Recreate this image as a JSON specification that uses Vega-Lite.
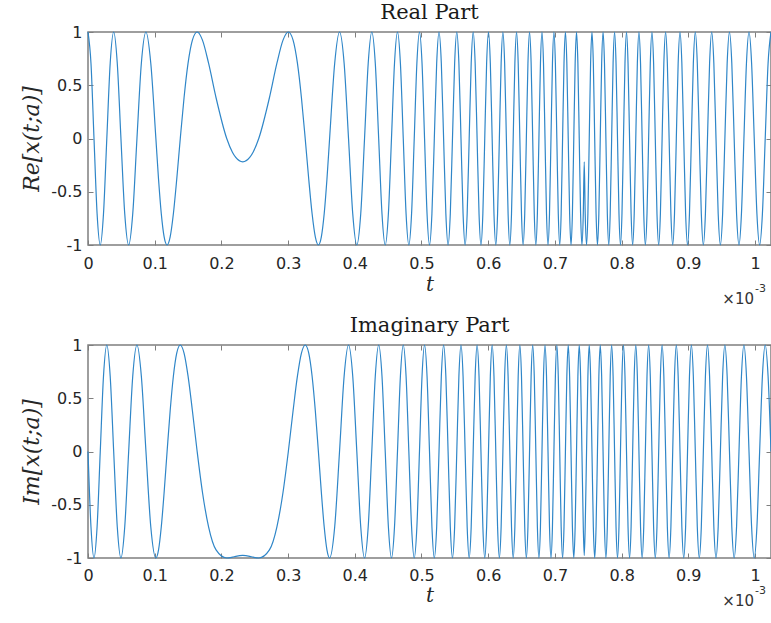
{
  "$schema": "https://vega.github.io/schema/vega-lite/v6.json",
  "background": "white",
  "padding": {"left": 20, "top": 1, "right": 0, "bottom": 0},
  "config": {
    "view": {"stroke": "#7f7f7f", "strokeWidth": 1.5},
    "axis": {
      "grid": false,
      "domain": false,
      "labelFont": "DejaVu Sans",
      "labelFontSize": 16,
      "labelColor": "#262626",
      "labelFlush": false,
      "tickColor": "#7f7f7f",
      "tickSize": 5,
      "offset": -5,
      "titleFont": "DejaVu Serif",
      "titleFontStyle": "italic",
      "titleFontWeight": "normal",
      "titleFontSize": 22,
      "titleColor": "#262626"
    },
    "title": {"font": "DejaVu Serif", "fontSize": 21, "fontWeight": "normal", "color": "#1a1a1a", "offset": 1}
  },
  "datasets": {
    "chirp": [
      {"t":0,"re":1,"im":0},
      {"t":0.00446,"re":0.7071,"im":-0.7071},
      {"t":0.009,"re":0,"im":-1},
      {"t":0.01364,"re":-0.7071,"im":-0.7071},
      {"t":0.01838,"re":-1,"im":0},
      {"t":0.02323,"re":-0.7071,"im":0.7071},
      {"t":0.0282,"re":0,"im":1},
      {"t":0.03328,"re":0.7071,"im":0.7071},
      {"t":0.03851,"re":1,"im":0},
      {"t":0.04388,"re":0.7071,"im":-0.7071},
      {"t":0.04939,"re":0,"im":-1},
      {"t":0.05509,"re":-0.7071,"im":-0.7071},
      {"t":0.06098,"re":-1,"im":0},
      {"t":0.06708,"re":-0.7071,"im":0.7071},
      {"t":0.0734,"re":0,"im":1},
      {"t":0.08,"re":0.7071,"im":0.7071},
      {"t":0.08689,"re":1,"im":0},
      {"t":0.09413,"re":0.7071,"im":-0.7071},
      {"t":0.10177,"re":0,"im":-1},
      {"t":0.10576,"re":-0.3827,"im":-0.9239},
      {"t":0.10989,"re":-0.7071,"im":-0.7071},
      {"t":0.11415,"re":-0.9239,"im":-0.3827},
      {"t":0.11858,"re":-1,"im":0},
      {"t":0.12319,"re":-0.9239,"im":0.3827},
      {"t":0.128,"re":-0.7071,"im":0.7071},
      {"t":0.13304,"re":-0.3827,"im":0.9239},
      {"t":0.13836,"re":0,"im":1},
      {"t":0.144,"re":0.3827,"im":0.9239},
      {"t":0.15002,"re":0.7071,"im":0.7071},
      {"t":0.15653,"re":0.9239,"im":0.3827},
      {"t":0.16365,"re":1,"im":0},
      {"t":0.1716,"re":0.9239,"im":-0.3827},
      {"t":0.18077,"re":0.7071,"im":-0.7071},
      {"t":0.192,"re":0.3827,"im":-0.9239},
      {"t":0.20799,"re":0,"im":-1},
      {"t":0.21651,"re":-0.1288,"im":-0.9917},
      {"t":0.22153,"re":-0.1782,"im":-0.984},
      {"t":0.232,"re":-0.2192,"im":-0.9757},
      {"t":0.24247,"re":-0.1782,"im":-0.984},
      {"t":0.24749,"re":-0.1288,"im":-0.9917},
      {"t":0.25601,"re":0,"im":-1},
      {"t":0.272,"re":0.3827,"im":-0.9239},
      {"t":0.28323,"re":0.7071,"im":-0.7071},
      {"t":0.2924,"re":0.9239,"im":-0.3827},
      {"t":0.30035,"re":1,"im":0},
      {"t":0.30747,"re":0.9239,"im":0.3827},
      {"t":0.31398,"re":0.7071,"im":0.7071},
      {"t":0.32,"re":0.3827,"im":0.9239},
      {"t":0.32564,"re":0,"im":1},
      {"t":0.33096,"re":-0.3827,"im":0.9239},
      {"t":0.336,"re":-0.7071,"im":0.7071},
      {"t":0.34081,"re":-0.9239,"im":0.3827},
      {"t":0.34542,"re":-1,"im":0},
      {"t":0.34985,"re":-0.9239,"im":-0.3827},
      {"t":0.35411,"re":-0.7071,"im":-0.7071},
      {"t":0.35824,"re":-0.3827,"im":-0.9239},
      {"t":0.36223,"re":0,"im":-1},
      {"t":0.36987,"re":0.7071,"im":-0.7071},
      {"t":0.37711,"re":1,"im":0},
      {"t":0.384,"re":0.7071,"im":0.7071},
      {"t":0.3906,"re":0,"im":1},
      {"t":0.39692,"re":-0.7071,"im":0.7071},
      {"t":0.40302,"re":-1,"im":0},
      {"t":0.40891,"re":-0.7071,"im":-0.7071},
      {"t":0.41461,"re":0,"im":-1},
      {"t":0.42012,"re":0.7071,"im":-0.7071},
      {"t":0.42549,"re":1,"im":0},
      {"t":0.43072,"re":0.7071,"im":0.7071},
      {"t":0.4358,"re":0,"im":1},
      {"t":0.44077,"re":-0.7071,"im":0.7071},
      {"t":0.44562,"re":-1,"im":0},
      {"t":0.45036,"re":-0.7071,"im":-0.7071},
      {"t":0.455,"re":0,"im":-1},
      {"t":0.45954,"re":0.7071,"im":-0.7071},
      {"t":0.464,"re":1,"im":0},
      {"t":0.46837,"re":0.7071,"im":0.7071},
      {"t":0.47267,"re":0,"im":1},
      {"t":0.47688,"re":-0.7071,"im":0.7071},
      {"t":0.48103,"re":-1,"im":0},
      {"t":0.48511,"re":-0.7071,"im":-0.7071},
      {"t":0.48912,"re":0,"im":-1},
      {"t":0.49308,"re":0.7071,"im":-0.7071},
      {"t":0.49697,"re":1,"im":0},
      {"t":0.5008,"re":0.7071,"im":0.7071},
      {"t":0.50459,"re":0,"im":1},
      {"t":0.50832,"re":-0.7071,"im":0.7071},
      {"t":0.512,"re":-1,"im":0},
      {"t":0.51563,"re":-0.7071,"im":-0.7071},
      {"t":0.51922,"re":0,"im":-1},
      {"t":0.52277,"re":0.7071,"im":-0.7071},
      {"t":0.52626,"re":1,"im":0},
      {"t":0.52973,"re":0.7071,"im":0.7071},
      {"t":0.53314,"re":0,"im":1},
      {"t":0.53653,"re":-0.7071,"im":0.7071},
      {"t":0.53987,"re":-1,"im":0},
      {"t":0.54318,"re":-0.7071,"im":-0.7071},
      {"t":0.54645,"re":0,"im":-1},
      {"t":0.54969,"re":0.7071,"im":-0.7071},
      {"t":0.5529,"re":1,"im":0},
      {"t":0.55607,"re":0.7071,"im":0.7071},
      {"t":0.55922,"re":0,"im":1},
      {"t":0.56233,"re":-0.7071,"im":0.7071},
      {"t":0.56542,"re":-1,"im":0},
      {"t":0.56847,"re":-0.7071,"im":-0.7071},
      {"t":0.5715,"re":0,"im":-1},
      {"t":0.57451,"re":0.7071,"im":-0.7071},
      {"t":0.57748,"re":1,"im":0},
      {"t":0.58044,"re":0.7071,"im":0.7071},
      {"t":0.58336,"re":0,"im":1},
      {"t":0.58626,"re":-0.7071,"im":0.7071},
      {"t":0.58914,"re":-1,"im":0},
      {"t":0.592,"re":-0.7071,"im":-0.7071},
      {"t":0.59483,"re":0,"im":-1},
      {"t":0.59765,"re":0.7071,"im":-0.7071},
      {"t":0.60043,"re":1,"im":0},
      {"t":0.6032,"re":0.7071,"im":0.7071},
      {"t":0.60595,"re":0,"im":1},
      {"t":0.60867,"re":-0.7071,"im":0.7071},
      {"t":0.61138,"re":-1,"im":0},
      {"t":0.61407,"re":-0.7071,"im":-0.7071},
      {"t":0.61675,"re":0,"im":-1},
      {"t":0.6194,"re":0.7071,"im":-0.7071},
      {"t":0.62203,"re":1,"im":0},
      {"t":0.62465,"re":0.7071,"im":0.7071},
      {"t":0.62725,"re":0,"im":1},
      {"t":0.62983,"re":-0.7071,"im":0.7071},
      {"t":0.6324,"re":-1,"im":0},
      {"t":0.63495,"re":-0.7071,"im":-0.7071},
      {"t":0.63748,"re":0,"im":-1},
      {"t":0.64,"re":0.7071,"im":-0.7071},
      {"t":0.6425,"re":1,"im":0},
      {"t":0.64498,"re":0.7071,"im":0.7071},
      {"t":0.64746,"re":0,"im":1},
      {"t":0.64991,"re":-0.7071,"im":0.7071},
      {"t":0.65236,"re":-1,"im":0},
      {"t":0.65478,"re":-0.7071,"im":-0.7071},
      {"t":0.6572,"re":0,"im":-1},
      {"t":0.6596,"re":0.7071,"im":-0.7071},
      {"t":0.66199,"re":1,"im":0},
      {"t":0.66437,"re":0.7071,"im":0.7071},
      {"t":0.66673,"re":0,"im":1},
      {"t":0.66908,"re":-0.7071,"im":0.7071},
      {"t":0.67142,"re":-1,"im":0},
      {"t":0.67374,"re":-0.7071,"im":-0.7071},
      {"t":0.67606,"re":0,"im":-1},
      {"t":0.67835,"re":0.7071,"im":-0.7071},
      {"t":0.68064,"re":1,"im":0},
      {"t":0.68292,"re":0.7071,"im":0.7071},
      {"t":0.68518,"re":0,"im":1},
      {"t":0.68743,"re":-0.7071,"im":0.7071},
      {"t":0.68968,"re":-1,"im":0},
      {"t":0.69191,"re":-0.7071,"im":-0.7071},
      {"t":0.69413,"re":0,"im":-1},
      {"t":0.69634,"re":0.7071,"im":-0.7071},
      {"t":0.69854,"re":1,"im":0},
      {"t":0.70073,"re":0.7071,"im":0.7071},
      {"t":0.70291,"re":0,"im":1},
      {"t":0.70508,"re":-0.7071,"im":0.7071},
      {"t":0.70724,"re":-1,"im":0},
      {"t":0.70939,"re":-0.7071,"im":-0.7071},
      {"t":0.71153,"re":0,"im":-1},
      {"t":0.71366,"re":0.7071,"im":-0.7071},
      {"t":0.71578,"re":1,"im":0},
      {"t":0.7179,"re":0.7071,"im":0.7071},
      {"t":0.72,"re":0,"im":1},
      {"t":0.72209,"re":-0.7071,"im":0.7071},
      {"t":0.72418,"re":-1,"im":0},
      {"t":0.72625,"re":-0.7071,"im":-0.7071},
      {"t":0.72832,"re":0,"im":-1},
      {"t":0.73037,"re":0.7071,"im":-0.7071},
      {"t":0.73242,"re":1,"im":0},
      {"t":0.73447,"re":0.7071,"im":0.7071},
      {"t":0.7365,"re":0,"im":1},
      {"t":0.73853,"re":-0.7071,"im":0.7071},
      {"t":0.74054,"re":-1,"im":0},
      {"t":0.74256,"re":-0.7071,"im":-0.7071},
      {"t":0.744,"re":-0.2192,"im":-0.9757},
      {"t":0.74544,"re":-0.7071,"im":-0.7071},
      {"t":0.74746,"re":-1,"im":0},
      {"t":0.74947,"re":-0.7071,"im":0.7071},
      {"t":0.7515,"re":0,"im":1},
      {"t":0.75353,"re":0.7071,"im":0.7071},
      {"t":0.75558,"re":1,"im":0},
      {"t":0.75763,"re":0.7071,"im":-0.7071},
      {"t":0.75968,"re":0,"im":-1},
      {"t":0.76175,"re":-0.7071,"im":-0.7071},
      {"t":0.76382,"re":-1,"im":0},
      {"t":0.76591,"re":-0.7071,"im":0.7071},
      {"t":0.768,"re":0,"im":1},
      {"t":0.7701,"re":0.7071,"im":0.7071},
      {"t":0.77222,"re":1,"im":0},
      {"t":0.77434,"re":0.7071,"im":-0.7071},
      {"t":0.77647,"re":0,"im":-1},
      {"t":0.77861,"re":-0.7071,"im":-0.7071},
      {"t":0.78076,"re":-1,"im":0},
      {"t":0.78292,"re":-0.7071,"im":0.7071},
      {"t":0.78509,"re":0,"im":1},
      {"t":0.78727,"re":0.7071,"im":0.7071},
      {"t":0.78946,"re":1,"im":0},
      {"t":0.79166,"re":0.7071,"im":-0.7071},
      {"t":0.79387,"re":0,"im":-1},
      {"t":0.79609,"re":-0.7071,"im":-0.7071},
      {"t":0.79832,"re":-1,"im":0},
      {"t":0.80057,"re":-0.7071,"im":0.7071},
      {"t":0.80282,"re":0,"im":1},
      {"t":0.80508,"re":0.7071,"im":0.7071},
      {"t":0.80736,"re":1,"im":0},
      {"t":0.80965,"re":0.7071,"im":-0.7071},
      {"t":0.81194,"re":0,"im":-1},
      {"t":0.81426,"re":-0.7071,"im":-0.7071},
      {"t":0.81658,"re":-1,"im":0},
      {"t":0.81892,"re":-0.7071,"im":0.7071},
      {"t":0.82127,"re":0,"im":1},
      {"t":0.82363,"re":0.7071,"im":0.7071},
      {"t":0.82601,"re":1,"im":0},
      {"t":0.8284,"re":0.7071,"im":-0.7071},
      {"t":0.8308,"re":0,"im":-1},
      {"t":0.83322,"re":-0.7071,"im":-0.7071},
      {"t":0.83564,"re":-1,"im":0},
      {"t":0.83809,"re":-0.7071,"im":0.7071},
      {"t":0.84054,"re":0,"im":1},
      {"t":0.84302,"re":0.7071,"im":0.7071},
      {"t":0.8455,"re":1,"im":0},
      {"t":0.848,"re":0.7071,"im":-0.7071},
      {"t":0.85052,"re":0,"im":-1},
      {"t":0.85305,"re":-0.7071,"im":-0.7071},
      {"t":0.8556,"re":-1,"im":0},
      {"t":0.85817,"re":-0.7071,"im":0.7071},
      {"t":0.86075,"re":0,"im":1},
      {"t":0.86335,"re":0.7071,"im":0.7071},
      {"t":0.86597,"re":1,"im":0},
      {"t":0.8686,"re":0.7071,"im":-0.7071},
      {"t":0.87125,"re":0,"im":-1},
      {"t":0.87393,"re":-0.7071,"im":-0.7071},
      {"t":0.87662,"re":-1,"im":0},
      {"t":0.87933,"re":-0.7071,"im":0.7071},
      {"t":0.88205,"re":0,"im":1},
      {"t":0.8848,"re":0.7071,"im":0.7071},
      {"t":0.88757,"re":1,"im":0},
      {"t":0.89035,"re":0.7071,"im":-0.7071},
      {"t":0.89317,"re":0,"im":-1},
      {"t":0.896,"re":-0.7071,"im":-0.7071},
      {"t":0.89886,"re":-1,"im":0},
      {"t":0.90174,"re":-0.7071,"im":0.7071},
      {"t":0.90464,"re":0,"im":1},
      {"t":0.90756,"re":0.7071,"im":0.7071},
      {"t":0.91052,"re":1,"im":0},
      {"t":0.91349,"re":0.7071,"im":-0.7071},
      {"t":0.9165,"re":0,"im":-1},
      {"t":0.91953,"re":-0.7071,"im":-0.7071},
      {"t":0.92258,"re":-1,"im":0},
      {"t":0.92567,"re":-0.7071,"im":0.7071},
      {"t":0.92878,"re":0,"im":1},
      {"t":0.93193,"re":0.7071,"im":0.7071},
      {"t":0.9351,"re":1,"im":0},
      {"t":0.93831,"re":0.7071,"im":-0.7071},
      {"t":0.94155,"re":0,"im":-1},
      {"t":0.94482,"re":-0.7071,"im":-0.7071},
      {"t":0.94813,"re":-1,"im":0},
      {"t":0.95147,"re":-0.7071,"im":0.7071},
      {"t":0.95486,"re":0,"im":1},
      {"t":0.95827,"re":0.7071,"im":0.7071},
      {"t":0.96174,"re":1,"im":0},
      {"t":0.96523,"re":0.7071,"im":-0.7071},
      {"t":0.96878,"re":0,"im":-1},
      {"t":0.97237,"re":-0.7071,"im":-0.7071},
      {"t":0.976,"re":-1,"im":0},
      {"t":0.97968,"re":-0.7071,"im":0.7071},
      {"t":0.98341,"re":0,"im":1},
      {"t":0.9872,"re":0.7071,"im":0.7071},
      {"t":0.99103,"re":1,"im":0},
      {"t":0.99492,"re":0.7071,"im":-0.7071},
      {"t":0.99888,"re":0,"im":-1},
      {"t":1.00289,"re":-0.7071,"im":-0.7071},
      {"t":1.00697,"re":-1,"im":0},
      {"t":1.01112,"re":-0.7071,"im":0.7071},
      {"t":1.01533,"re":0,"im":1},
      {"t":1.01963,"re":0.7071,"im":0.7071},
      {"t":1.024,"re":1,"im":0}
    ]
  },
  "spacing": 100,
  "bounds": "flush",
  "vconcat": [
    {
      "width": 683,
      "height": 213,
      "title": {"text": "Real Part"},
      "data": {"name": "chirp"},
      "layer": [
        {
          "mark": {"type": "line", "color": "#2f86c8", "strokeWidth": 1.2, "interpolate": "monotone"},
          "encoding": {
            "x": {
              "field": "t", "type": "quantitative",
              "scale": {"domain": [0, 1.024], "nice": false, "zero": false},
              "axis": {"orient": "bottom", "values": [0, 0.1, 0.2, 0.3, 0.4, 0.5, 0.6, 0.7, 0.8, 0.9, 1], "labelExpr": "datum.value + ''", "labelPadding": 10, "title": "t", "titleFontSize": 20, "titlePadding": 3}
            },
            "y": {
              "field": "re", "type": "quantitative",
              "scale": {"domain": [-1, 1], "nice": false},
              "axis": {"orient": "left", "values": [-1, -0.5, 0, 0.5, 1], "labelExpr": "datum.value + ''", "labelPadding": 6, "title": "Re[x(t;a)]", "titlePadding": 7}
            }
          }
        },
        {
          "mark": {"type": "line", "opacity": 0, "interpolate": "monotone"},
          "encoding": {
            "x": {"field": "t", "type": "quantitative", "axis": {"orient": "top", "values": [0, 0.1, 0.2, 0.3, 0.4, 0.5, 0.6, 0.7, 0.8, 0.9, 1], "labels": false, "title": null}},
            "y": {"field": "re", "type": "quantitative", "axis": {"orient": "right", "values": [-1, -0.5, 0, 0.5, 1], "labels": false, "title": null}}
          }
        },
        {
          "data": {"values": [{"label": "×10"}]},
          "mark": {"type": "text", "align": "right", "baseline": "middle", "dx": -17, "dy": 54, "font": "DejaVu Sans", "fontSize": 15, "fontWeight": "normal", "color": "#333333"},
          "encoding": {"text": {"field": "label"}, "x": {"datum": 1.024, "axis": null}, "y": {"datum": -1, "axis": null}}
        },
        {
          "data": {"values": [{"label": "-3"}]},
          "mark": {"type": "text", "align": "left", "baseline": "middle", "dx": -16, "dy": 44, "font": "DejaVu Sans", "fontSize": 11, "fontWeight": "normal", "color": "#333333"},
          "encoding": {"text": {"field": "label"}, "x": {"datum": 1.024, "axis": null}, "y": {"datum": -1, "axis": null}}
        }
      ],
      "resolve": {"axis": {"x": "independent", "y": "independent"}}
    },
    {
      "width": 683,
      "height": 213,
      "title": {"text": "Imaginary Part"},
      "data": {"name": "chirp"},
      "layer": [
        {
          "mark": {"type": "line", "color": "#2f86c8", "strokeWidth": 1.2, "interpolate": "monotone"},
          "encoding": {
            "x": {
              "field": "t", "type": "quantitative",
              "scale": {"domain": [0, 1.024], "nice": false, "zero": false},
              "axis": {"orient": "bottom", "values": [0, 0.1, 0.2, 0.3, 0.4, 0.5, 0.6, 0.7, 0.8, 0.9, 1], "labelExpr": "datum.value + ''", "labelPadding": 9, "title": "t", "titleFontSize": 20, "titlePadding": 2}
            },
            "y": {
              "field": "im", "type": "quantitative",
              "scale": {"domain": [-1, 1], "nice": false},
              "axis": {"orient": "left", "values": [-1, -0.5, 0, 0.5, 1], "labelExpr": "datum.value + ''", "labelPadding": 6, "title": "Im[x(t;a)]", "titlePadding": 7}
            }
          }
        },
        {
          "mark": {"type": "line", "opacity": 0, "interpolate": "monotone"},
          "encoding": {
            "x": {"field": "t", "type": "quantitative", "axis": {"orient": "top", "values": [0, 0.1, 0.2, 0.3, 0.4, 0.5, 0.6, 0.7, 0.8, 0.9, 1], "labels": false, "title": null}},
            "y": {"field": "im", "type": "quantitative", "axis": {"orient": "right", "values": [-1, -0.5, 0, 0.5, 1], "labels": false, "title": null}}
          }
        },
        {
          "data": {"values": [{"label": "×10"}]},
          "mark": {"type": "text", "align": "right", "baseline": "middle", "dx": -17, "dy": 43, "font": "DejaVu Sans", "fontSize": 15, "fontWeight": "normal", "color": "#333333"},
          "encoding": {"text": {"field": "label"}, "x": {"datum": 1.024, "axis": null}, "y": {"datum": -1, "axis": null}}
        },
        {
          "data": {"values": [{"label": "-3"}]},
          "mark": {"type": "text", "align": "left", "baseline": "middle", "dx": -16, "dy": 33, "font": "DejaVu Sans", "fontSize": 11, "fontWeight": "normal", "color": "#333333"},
          "encoding": {"text": {"field": "label"}, "x": {"datum": 1.024, "axis": null}, "y": {"datum": -1, "axis": null}}
        }
      ],
      "resolve": {"axis": {"x": "independent", "y": "independent"}}
    }
  ]
}
